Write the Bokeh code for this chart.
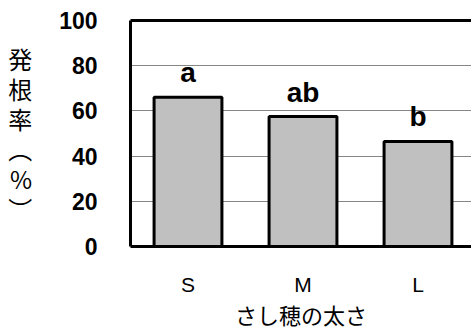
from bokeh.plotting import figure
from bokeh.models import Range1d, FixedTicker, LinearAxis, ColumnDataSource
from bokeh.core.properties import value
from bokeh.embed import file_html
from bokeh.resources import INLINE

categories = ["S", "M", "L"]
rooting_rate = [66, 57.5, 46.5]
sig_letters = ["a", "ab", "b"]
y_ticks = [0, 20, 40, 60, 80, 100]
x_title = "さし穂の太さ"
y_title_chars = ["発", "根", "率", "︵", "%", "︶"]

xs = [i + 0.5 for i in range(len(categories))]
src = ColumnDataSource(dict(x=xs, top=rooting_rate, lab=sig_letters))

p = figure(width=471, height=332, output_backend="svg", toolbar_location=None,
           x_range=Range1d(0, 341 / 115.0), y_range=Range1d(0, 100),
           min_border_left=130, min_border_right=0, min_border_top=20,
           min_border_bottom=86, outline_line_color=None,
           background_fill_color="white", border_fill_color="white")

p.vbar(x="x", top="top", width=0.59, bottom=0, source=src,
       fill_color="#c0c0c0", line_color="black", line_width=3)

p.text(x="x", y="top", text="lab", source=src, text_align="center",
       text_baseline="bottom", y_offset=-9,
       text_font=value("Liberation Sans"), text_font_style="bold",
       text_font_size="28px", text_color="black")

# axes
xa = p.xaxis[0]
xa.ticker = FixedTicker(ticks=xs)
xa.major_label_overrides = {x: c for x, c in zip(xs, categories)}
xa.major_tick_line_color = None
xa.minor_tick_line_color = None
xa.axis_line_width = 3
xa.axis_line_color = "black"
xa.major_label_standoff = 20
xa.major_label_text_font = "Liberation Sans"
xa.major_label_text_font_size = "21px"
xa.major_label_text_color = "black"
xa.axis_label = x_title
xa.axis_label_text_font = "Noto Sans CJK JP"
xa.axis_label_text_font_style = "normal"
xa.axis_label_text_font_size = "22px"
xa.axis_label_text_color = "black"
xa.axis_label_standoff = -1

ya = p.yaxis[0]
ya.ticker = FixedTicker(ticks=y_ticks)
ya.major_tick_line_color = None
ya.minor_tick_line_color = None
ya.axis_line_width = 3
ya.axis_line_color = "black"
ya.major_label_standoff = 27
ya.major_label_text_font = "Liberation Sans"
ya.major_label_text_font_style = "bold"
ya.major_label_text_font_size = "23px"
ya.major_label_text_color = "black"
ya.axis_label = "\n".join(y_title_chars)
ya.axis_label_orientation = "horizontal"
ya.axis_label_text_font = "Noto Sans CJK JP"
ya.axis_label_text_font_style = "normal"
ya.axis_label_text_font_size = "24px"
ya.axis_label_text_color = "black"
ya.axis_label_text_line_height = 0.86
ya.axis_label_standoff = 24

top_axis = LinearAxis(ticker=FixedTicker(ticks=[]), axis_line_width=3,
                      axis_line_color="black", major_tick_line_color=None,
                      minor_tick_line_color=None)
p.add_layout(top_axis, "above")

p.xgrid.visible = False
p.ygrid.ticker = FixedTicker(ticks=y_ticks[1:-1])
p.ygrid.grid_line_color = "#868686"
p.ygrid.grid_line_width = 1.2

open("out.html", "w").write(file_html(p, INLINE))
